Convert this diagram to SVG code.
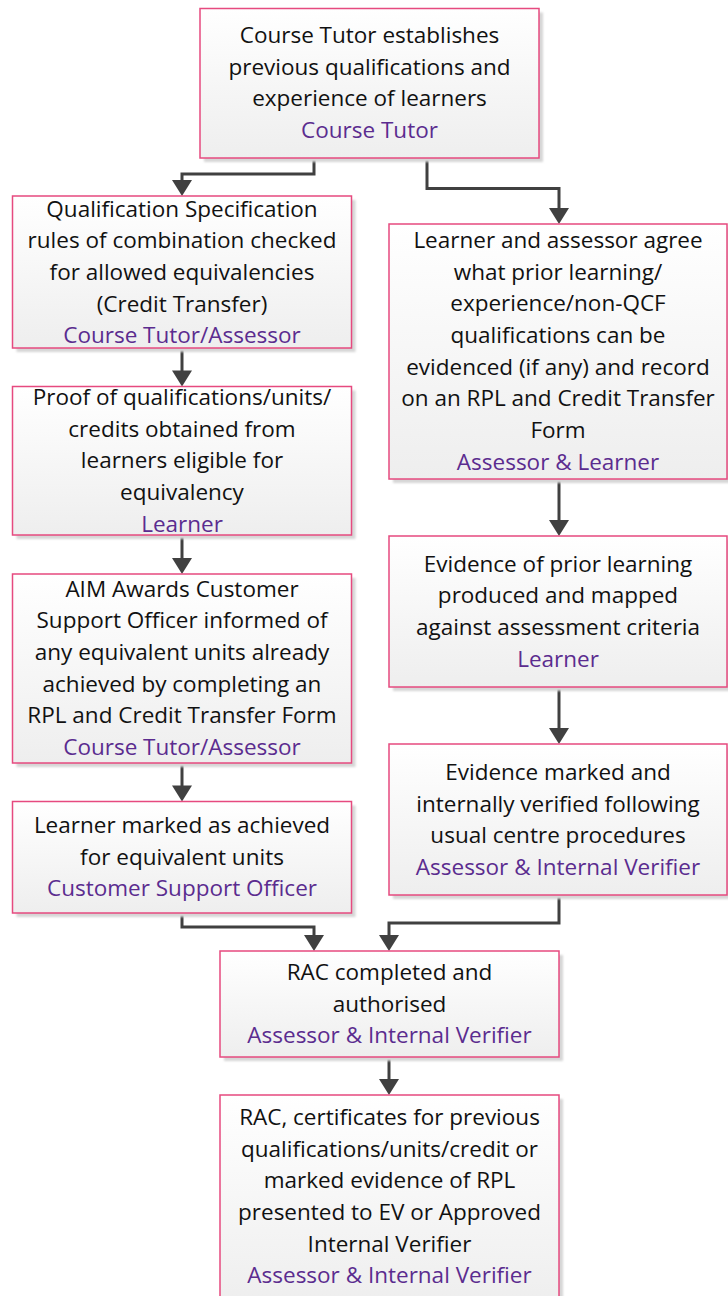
<svg xmlns="http://www.w3.org/2000/svg" width="728" height="1296" viewBox="0 0 728 1296">
<defs>
<linearGradient id="g" x1="0" y1="0" x2="0" y2="1">
<stop offset="0" stop-color="#ffffff"/>
<stop offset="1" stop-color="#eeeeee"/>
</linearGradient>
<filter id="blur" x="-5%" y="-5%" width="110%" height="110%"><feGaussianBlur stdDeviation="1"/></filter>
<marker id="arr" markerUnits="userSpaceOnUse" markerWidth="22" markerHeight="22" viewBox="0 -11 17 22" refX="10" refY="0" orient="auto">
<path d="M0,-10 L16,0 L0,10 z" fill="#404040"/>
</marker>
</defs>
<style>
.sh{fill:#d6d6d6;filter:url(#blur)}
.bx{fill:url(#g);stroke:#e64a7f;stroke-width:1.5}
text{font-family:"Open Sans","Liberation Sans",sans-serif;font-size:22.5px;text-anchor:middle;fill:#111}
.r{fill:#5b2c8f}
.c{fill:none;stroke:#404040;stroke-width:3;marker-end:url(#arr)}
</style>
<rect width="728" height="1296" fill="#ffffff"/>
<g id="connectors">
<path class="c" d="M314 158 V174 H182 V190"/>
<path class="c" d="M427 158 V188.5 H559 V218"/>
<path class="c" d="M182 348 V380.5"/>
<path class="c" d="M182 535 V568"/>
<path class="c" d="M182 763 V795.5"/>
<path class="c" d="M559 479 V530"/>
<path class="c" d="M559 687 V738"/>
<path class="c" d="M182 913 V927 H314 V945"/>
<path class="c" d="M559 895 V923 H389 V945"/>
<path class="c" d="M389 1057 V1089"/>
</g>
<g id="n1">
<rect class="sh" x="204" y="12.5" width="339" height="149.5"/>
<rect class="bx" x="200" y="8.5" width="339" height="149.5"/>
<text x="369.5" y="43">Course Tutor establishes</text>
<text x="369.5" y="74.7">previous qualifications and</text>
<text x="369.5" y="106.4">experience of learners</text>
<text class="r" x="369.5" y="138">Course Tutor</text>
</g>
<g id="n2">
<rect class="sh" x="16.5" y="200" width="339" height="152"/>
<rect class="bx" x="12.5" y="196" width="339" height="152"/>
<text x="182" y="216.7">Qualification Specification</text>
<text x="182" y="248.3">rules of combination checked</text>
<text x="182" y="280">for allowed equivalencies</text>
<text x="182" y="311.7">(Credit Transfer)</text>
<text class="r" x="182" y="343.3">Course Tutor/Assessor</text>
</g>
<g id="n3">
<rect class="sh" x="393" y="228" width="338" height="255"/>
<rect class="bx" x="389" y="224" width="338" height="255"/>
<text x="558" y="248">Learner and assessor agree</text>
<text x="558" y="279.7">what prior learning/</text>
<text x="558" y="311.3">experience/non-QCF</text>
<text x="558" y="343">qualifications can be</text>
<text x="558" y="374.7">evidenced (if any) and record</text>
<text x="558" y="406.3">on an RPL and Credit Transfer</text>
<text x="558" y="438">Form</text>
<text class="r" x="558" y="469.7">Assessor &amp; Learner</text>
</g>
<g id="n4">
<rect class="sh" x="16.5" y="390.5" width="339" height="148.5"/>
<rect class="bx" x="12.5" y="386.5" width="339" height="148.5"/>
<text x="182" y="405">Proof of qualifications/units/</text>
<text x="182" y="436.7">credits obtained from</text>
<text x="182" y="468.3">learners eligible for</text>
<text x="182" y="500">equivalency</text>
<text class="r" x="182" y="531.7">Learner</text>
</g>
<g id="n5">
<rect class="sh" x="393" y="540" width="338" height="151"/>
<rect class="bx" x="389" y="536" width="338" height="151"/>
<text x="558" y="571.7">Evidence of prior learning</text>
<text x="558" y="603.3">produced and mapped</text>
<text x="558" y="635">against assessment criteria</text>
<text class="r" x="558" y="666.7">Learner</text>
</g>
<g id="n6">
<rect class="sh" x="16.5" y="578" width="339" height="189"/>
<rect class="bx" x="12.5" y="574" width="339" height="189"/>
<text x="182" y="596.7">AIM Awards Customer</text>
<text x="182" y="628.3">Support Officer informed of</text>
<text x="182" y="660">any equivalent units already</text>
<text x="182" y="691.7">achieved by completing an</text>
<text x="182" y="723.3">RPL and Credit Transfer Form</text>
<text class="r" x="182" y="755">Course Tutor/Assessor</text>
</g>
<g id="n7">
<rect class="sh" x="393" y="748" width="338" height="151"/>
<rect class="bx" x="389" y="744" width="338" height="151"/>
<text x="558" y="780">Evidence marked and</text>
<text x="558" y="811.7">internally verified following</text>
<text x="558" y="843.3">usual centre procedures</text>
<text class="r" x="558" y="875">Assessor &amp; Internal Verifier</text>
</g>
<g id="n8">
<rect class="sh" x="16.5" y="805.5" width="339" height="111.5"/>
<rect class="bx" x="12.5" y="801.5" width="339" height="111.5"/>
<text x="182" y="833">Learner marked as achieved</text>
<text x="182" y="864.7">for equivalent units</text>
<text class="r" x="182" y="896.3">Customer Support Officer</text>
</g>
<g id="n9">
<rect class="sh" x="224" y="955" width="339" height="106"/>
<rect class="bx" x="220" y="951" width="339" height="106"/>
<text x="389.5" y="980">RAC completed and</text>
<text x="389.5" y="1011.7">authorised</text>
<text class="r" x="389.5" y="1043.3">Assessor &amp; Internal Verifier</text>
</g>
<g id="n10">
<rect class="sh" x="224" y="1099" width="339" height="210"/>
<rect class="bx" x="220" y="1095" width="339" height="210"/>
<text x="389.5" y="1125">RAC, certificates for previous</text>
<text x="389.5" y="1156.7">qualifications/units/credit or</text>
<text x="389.5" y="1188.3">marked evidence of RPL</text>
<text x="389.5" y="1220">presented to EV or Approved</text>
<text x="389.5" y="1251.7">Internal Verifier</text>
<text class="r" x="389.5" y="1283.3">Assessor &amp; Internal Verifier</text>
</g>
</svg>
